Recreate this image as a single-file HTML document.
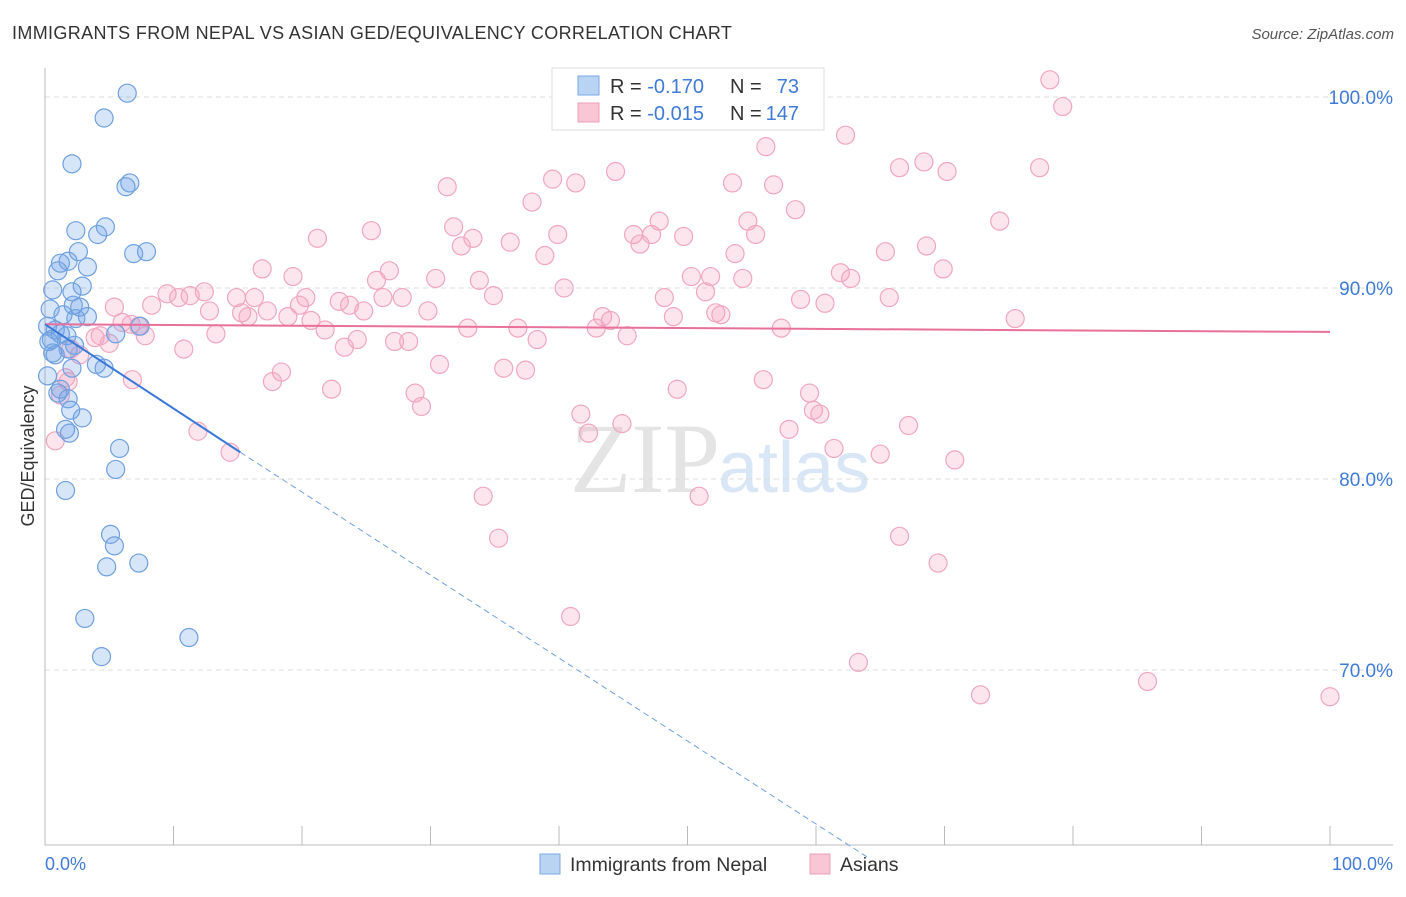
<!DOCTYPE html>
<html><head><meta charset="utf-8"><style>
body{margin:0;background:#fff;font-family:"Liberation Sans",sans-serif;}
</style></head><body>
<svg id="c" width="1406" height="892" xmlns="http://www.w3.org/2000/svg">
<text x="12" y="39" font-size="18" fill="#333" letter-spacing="0.35">IMMIGRANTS FROM NEPAL VS ASIAN GED/EQUIVALENCY CORRELATION CHART</text>
<text x="1394" y="39" font-size="15" fill="#555" text-anchor="end" font-style="italic">Source: ZipAtlas.com</text>
<text x="720" y="492" font-size="100" fill="#e4e4e4" text-anchor="end" font-family="Liberation Serif">ZIP</text>
<text x="718" y="492" font-size="72" fill="#d8e6f5">atlas</text>
<g id="grid"></g>
<g id="pts"></g>
<g id="trend"></g>
<text transform="translate(34,456) rotate(-90)" font-size="18" fill="#333" text-anchor="middle">GED/Equivalency</text>
<text x="45" y="870" font-size="18" fill="#3f7bd6">0.0%</text>
<text x="1393" y="870" font-size="18" fill="#3f7bd6" text-anchor="end">100.0%</text>
<g>
<rect x="552" y="68" width="272" height="62" fill="#fff" stroke="#ddd"/>
<rect x="578" y="76" width="21" height="19" fill="#b9d3f3" stroke="#7aa8e6"/>
<rect x="578" y="103" width="21" height="19" fill="#f9c6d6" stroke="#ee9fb9"/>
<text x="610" y="93" font-size="20" fill="#333">R = <tspan fill="#3f7bd6">-0.170</tspan></text>
<text x="730" y="93" font-size="20" fill="#333">N =</text>
<text x="799" y="93" font-size="20" fill="#3f7bd6" text-anchor="end">73</text>
<text x="610" y="120" font-size="20" fill="#333">R = <tspan fill="#3f7bd6">-0.015</tspan></text>
<text x="730" y="120" font-size="20" fill="#333">N =</text>
<text x="799" y="120" font-size="20" fill="#3f7bd6" text-anchor="end">147</text>
</g>
<rect x="540" y="854" width="20" height="20" fill="#b9d3f3" stroke="#7aa8e6"/>
<text x="570" y="871" font-size="19.5" fill="#333">Immigrants from Nepal</text>
<rect x="810" y="854" width="20" height="20" fill="#f9c6d6" stroke="#ee9fb9"/>
<text x="840" y="871" font-size="19.5" fill="#333">Asians</text>
</svg>
<script>
const yTicks=[100,90,80,70];
const nepalX=[6.4,4.6,2.1,6.6,6.3,4.7,2.4,4.1,2.6,7.9,6.9,1.8,1.2,3.3,1.0,2.9,0.6,2.1,2.2,2.7,0.4,1.4,3.3,2.4,0.2,0.8,1.2,1.7,0.5,7.4,5.5,2.3,1.8,0.8,4.0,4.6,2.1,0.2,1.2,1.8,2.0,2.9,1.6,1.9,5.8,5.5,1.6,5.1,5.4,4.8,7.3,3.1,11.2,4.4,0.3,0.6,1.0];
const nepalY=[100.2,98.9,96.5,95.5,95.3,93.2,93.0,92.8,91.9,91.9,91.8,91.4,91.3,91.1,90.9,90.1,89.9,89.8,89.1,89.0,88.9,88.6,88.5,88.4,88.0,87.8,87.6,87.5,87.3,88.0,87.6,87.0,86.8,86.5,86.0,85.8,85.8,85.4,84.7,84.2,83.6,83.2,82.6,82.4,81.6,80.5,79.4,77.1,76.5,75.4,75.6,72.7,71.7,70.7,87.2,86.6,84.5];
const asianX=[78.2,79.2,62.3,56.1,68.4,66.5,70.2,77.4,44.4,39.5,41.3,31.3,53.5,56.7,37.9,58.4,74.3,54.7,47.8,31.8,25.4,45.8,47.2,39.9,55.3,21.2,33.3,49.7,36.2,46.3,32.4,68.6,65.4,53.7,38.9,16.9,69.9,26.8,61.9,50.3,51.8,54.3,62.7,19.3,30.4,33.8,25.8,40.4,51.4,9.5,10.4,11.3,12.4,14.9,16.3,20.3,26.3,27.8,34.9,48.2,58.8,65.7,60.7,5.4,8.3,12.8,15.3,17.3,19.8,22.9,23.7,24.8,29.8,18.9,20.7,15.8,43.4,44.0,48.9,52.2,52.6,75.5,6.7,6.0,7.3,7.8,13.3,21.8,32.9,36.8,42.9,57.3,45.3,4.3,3.9,5.0,10.8,24.3,27.2,28.3,38.3,23.3,2.0,2.7,30.7,35.7,37.4,18.4,17.7,6.8,1.8,55.9,22.3,49.2,28.8,59.5,29.3,59.8,60.3,41.7,44.9,67.2,42.3,57.9,11.9,61.4,14.4,65.0,70.8,34.1,50.9,35.3,66.5,69.5,40.9,63.3,72.8,85.8,100,0.8,1.2,1.6];
const asianY=[100.9,99.5,98.0,97.4,96.6,96.3,96.1,96.3,96.1,95.7,95.5,95.3,95.5,95.4,94.5,94.1,93.5,93.5,93.5,93.2,93.0,92.8,92.8,92.8,92.8,92.6,92.6,92.7,92.4,92.3,92.2,92.2,91.9,91.8,91.7,91.0,91.0,90.9,90.8,90.6,90.6,90.5,90.5,90.6,90.5,90.4,90.4,90.0,89.8,89.7,89.5,89.6,89.8,89.5,89.5,89.5,89.5,89.5,89.6,89.5,89.4,89.5,89.2,89.0,89.1,88.8,88.7,88.8,89.1,89.3,89.1,88.8,88.8,88.5,88.3,88.5,88.5,88.3,88.5,88.7,88.6,88.4,88.1,88.2,88.0,87.5,87.6,87.8,87.9,87.9,87.9,87.9,87.5,87.5,87.4,87.1,86.8,87.3,87.2,87.2,87.3,86.9,86.8,86.5,86.0,85.8,85.7,85.6,85.1,85.2,85.1,85.2,84.7,84.7,84.5,84.5,83.8,83.6,83.4,83.4,82.9,82.8,82.4,82.6,82.5,81.6,81.4,81.3,81.0,79.1,79.1,76.9,77.0,75.6,72.8,70.4,68.7,69.4,68.6,82.0,84.4,85.3];
const nepalTrend=[[0,88.1],[15.2,81.4]];
const nepalDash=[[15.2,81.4],[64,60.2]];
const asianTrend=[[0,88.1],[100,87.7]];
const NS='http://www.w3.org/2000/svg';
const sx=v=>45+v*12.85, sy=v=>97+(100-v)*19.1;
function mk(t,a,p){const e=document.createElementNS(NS,t);for(const k in a)e.setAttribute(k,a[k]);p.appendChild(e);return e;}
const grid=document.getElementById('grid');
yTicks.forEach(t=>{
 const l=mk('line',{x1:45,x2:1393,y1:sy(t),y2:sy(t),stroke:'#ddd','stroke-dasharray':'5,4'},grid);
 
 
 const tx=mk('text',{x:1393,y:sy(t)+7,'font-size':19,fill:'#3f7bd6','text-anchor':'end'},grid);
 tx.textContent=t.toFixed(1)+'%';
 
 
});
mk('line',{x1:45,x2:45,y1:68,y2:845,stroke:'#bbb'},grid);
mk('line',{x1:45,x2:1393,y1:845,y2:845,stroke:'#bbb'},grid);
for(let i=0;i<=10;i++){const tk=mk('line',{x1:sx(i*10),x2:sx(i*10),y1:826,y2:845,stroke:'#bbb'},grid);
 
 }
const pts=document.getElementById('pts');
asianX.forEach((x,i)=>{const c=mk('circle',{cx:sx(x),cy:sy(asianY[i]),r:9,fill:'rgba(244,160,190,0.28)',stroke:'#f0a6c0','stroke-width':1.2},pts);
 
 });
nepalX.forEach((x,i)=>{const c=mk('circle',{cx:sx(x),cy:sy(nepalY[i]),r:9,fill:'rgba(110,160,230,0.28)',stroke:'#6fa0e0','stroke-width':1.2},pts);
 
 });
const tr=document.getElementById('trend');
const a=mk('line',{x1:sx(asianTrend[0][0]),y1:sy(asianTrend[0][1]),x2:sx(asianTrend[1][0]),y2:sy(asianTrend[1][1]),stroke:'#e8709a','stroke-width':2},tr);


const n=mk('line',{x1:sx(nepalTrend[0][0]),y1:sy(nepalTrend[0][1]),x2:sx(nepalTrend[1][0]),y2:sy(nepalTrend[1][1]),stroke:'#3a78d8','stroke-width':2},tr);


const d=mk('line',{x1:sx(nepalDash[0][0]),y1:sy(nepalDash[0][1]),x2:sx(nepalDash[1][0]),y2:sy(nepalDash[1][1]),stroke:'#6fa0e0','stroke-width':1,'stroke-dasharray':'6,4'},tr);


</script>
</body></html>
